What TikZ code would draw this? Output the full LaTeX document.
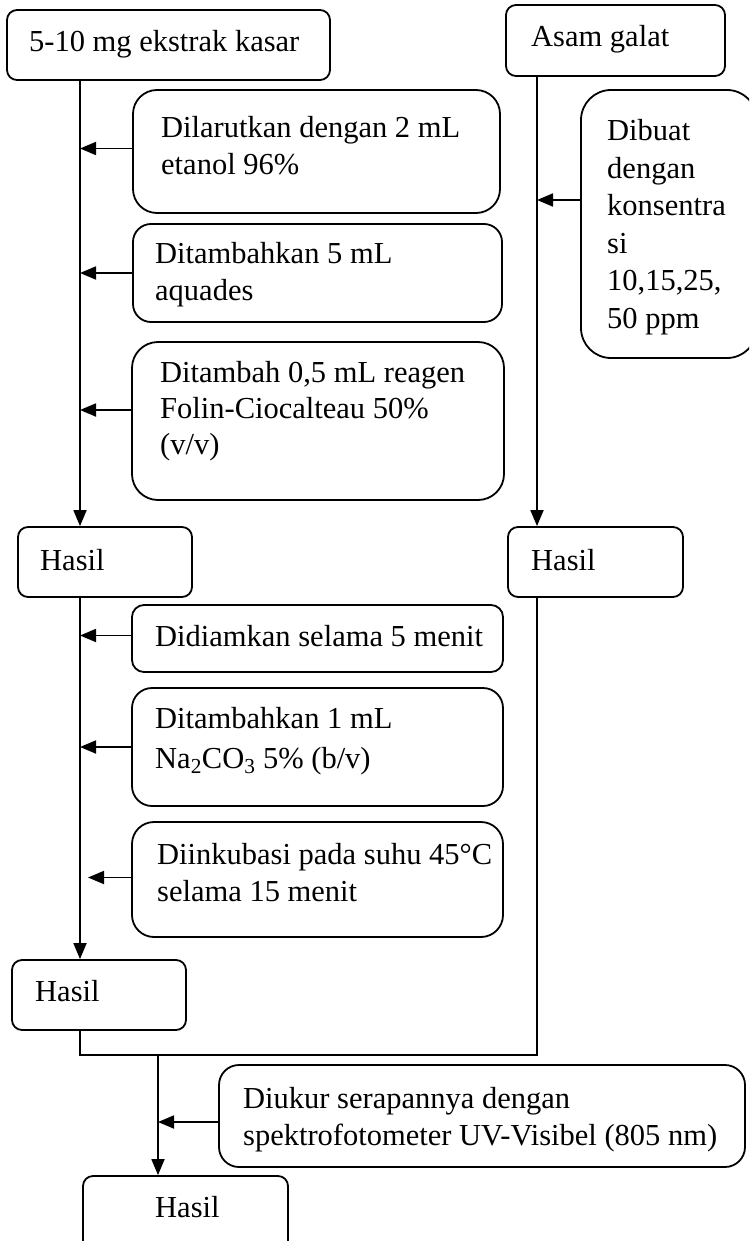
\documentclass[tikz,border=0pt]{standalone}
\usepackage{fontspec}
\setmainfont{Liberation Serif}
\usetikzlibrary{arrows.meta,fit}
\begin{document}
\begin{tikzpicture}[x=1pt,y=-1pt,
  box/.style={draw, line width=1.8pt, inner sep=0pt},
  txt/.style={anchor=base west, align=left, inner sep=0pt, font=\fontsize{30.5}{37}\selectfont},
  flow/.style={line width=1.8pt},
  arr/.style={flow, -{Triangle[length=16pt,width=13pt]}}]
\useasboundingbox (0,0) rectangle (749,1241);
\clip (0,0) rectangle (749,1241);

% spines
\coordinate (spineL) at (80,0);
\coordinate (spineR) at (537,0);
\coordinate (joinM) at (158,1055);
\coordinate (joinR) at (537,1055);

% boxes
\node[box, rounded corners=10pt, fit={(7,10)(330,80)}] (ekstrak) {};
\node[box, rounded corners=10pt, fit={(506,5)(725,76)}] (asam) {};
\node[box, rounded corners=24pt, fit={(133,90)(500,213)}] (larut) {};
\node[box, rounded corners=18pt, fit={(133,224)(502,322)}] (aquades) {};
\node[box, rounded corners=26pt, fit={(132,342)(504,500)}] (folin) {};
\node[box, rounded corners=30pt, fit={(581,90)(757,358)}] (dibuat) {};
\node[box, rounded corners=10pt, fit={(18,527)(192,597)}] (hasilA) {};
\node[box, rounded corners=10pt, fit={(508,527)(683,597)}] (hasilB) {};
\node[box, rounded corners=12pt, fit={(132,605)(503,672)}] (diam) {};
\node[box, rounded corners=20pt, fit={(132,688)(503,806)}] (natrium) {};
\node[box, rounded corners=22pt, fit={(132,822)(503,937)}] (inkubasi) {};
\node[box, rounded corners=10pt, fit={(12,960)(186,1030)}] (hasilC) {};
\node[box, rounded corners=20pt, fit={(219,1065)(745,1167)}] (ukur) {};
\node[box, rounded corners=10pt, fit={(83,1176)(288,1262)}] (hasilD) {};

% texts (multi-line nodes sit on the baseline of their last line)
\node[txt] (ekstrak-t) at (29,52) {5-10 mg ekstrak kasar};
\node[txt] (asam-t) at (531,47) {Asam galat};
\node[txt] (larut-t) at (161,175) {Dilarutkan dengan 2 mL\\etanol 96\%};
\node[txt] (aquades-t) at (155,300) {Ditambahkan 5 mL\\aquades};
\node[txt, font=\fontsize{30.5}{36}\selectfont] (folin-t) at (160,454) {Ditambah 0,5 mL reagen\\Folin-Ciocalteau 50\%\\(v/v)};
\node[txt, font=\fontsize{30.5}{37.5}\selectfont] (dibuat-t) at (607,328) {Dibuat\\dengan\\konsentra\\si\\10,15,25,\\50 ppm};
\node[txt] (hasilA-t) at (40,570) {Hasil};
\node[txt] (hasilB-t) at (531,570) {Hasil};
\node[txt] (diam-t) at (155,646) {Didiamkan selama 5 menit};
\node[txt, font=\fontsize{30.5}{40}\selectfont] (natrium-t) at (155,768) {Ditambahkan 1 mL\\Na\textsubscript{2}CO\textsubscript{3} 5\% (b/v)};
\node[txt] (inkubasi-t) at (157,901) {Diinkubasi pada suhu 45°C\\selama 15 menit};
\node[txt] (hasilC-t) at (35,1001) {Hasil};
\node[txt] (ukur-t) at (243,1145) {Diukur serapannya dengan\\spektrofotometer UV-Visibel (805 nm)};
\node[txt] (hasilD-t) at (155,1217) {Hasil};

% main flow lines
\draw[arr] (ekstrak.south -| spineL) -- (hasilA.north -| spineL);
\draw[arr] (asam.south -| spineR) -- (hasilB.north -| spineR);
\draw[arr] (hasilA.south -| spineL) -- (hasilC.north -| spineL);
\draw[flow] (hasilC.south -| spineL) |- (joinR) -- (hasilB.south -| spineR);
\draw[arr] (joinM) -- (hasilD.north -| joinM);

% side inputs
\draw[arr] ([yshift=3pt]larut.west) -- ([yshift=3pt]larut.west -| spineL);
\draw[arr] (aquades.west) -- (aquades.west -| spineL);
\draw[arr] ([yshift=11pt]folin.west) -- ([yshift=11pt]folin.west -| spineL);
\draw[arr] ([yshift=24pt]dibuat.west) -- ([yshift=24pt]dibuat.west -| spineR);
\draw[arr] ([yshift=3pt]diam.west) -- ([yshift=3pt]diam.west -| spineL);
\draw[arr] (natrium.west) -- (natrium.west -| spineL);
\draw[arr, shorten >=8pt] ([yshift=2pt]inkubasi.west) -- ([yshift=2pt]inkubasi.west -| spineL);
\draw[arr] ([yshift=-6pt]ukur.west) -- ([yshift=-6pt]ukur.west -| joinM);
\end{tikzpicture}
\end{document}
